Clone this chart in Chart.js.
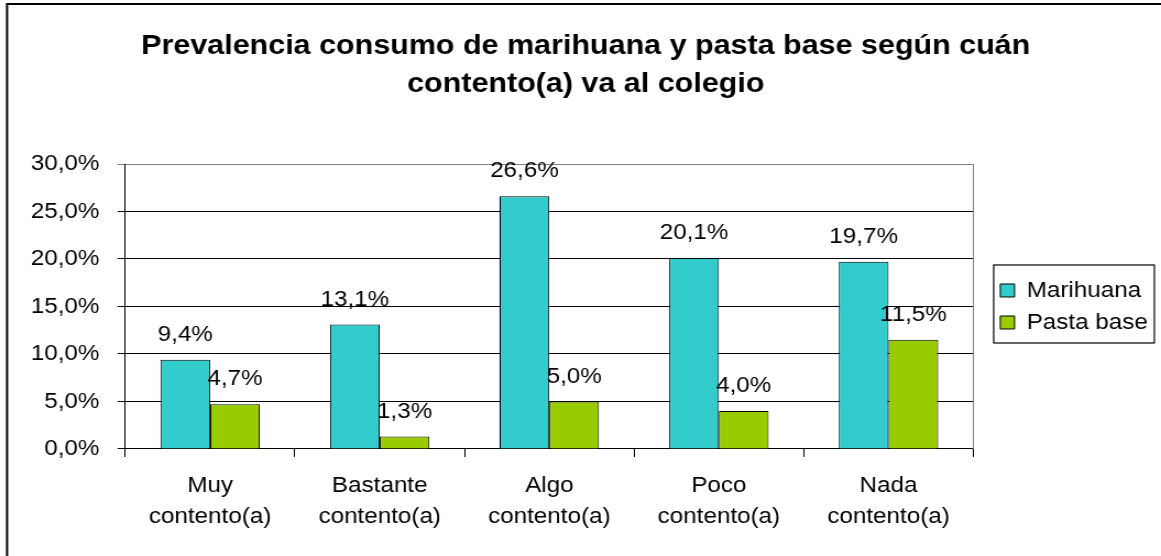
<!DOCTYPE html>
<html>
<head>
<meta charset="utf-8">
<script src="https://cdn.jsdelivr.net/npm/chart.js@4/dist/chart.umd.min.js"></script>
<style>
  html, body { margin: 0; padding: 0; background: #fff; overflow: hidden; }
  #wrap { width: 1055px; height: 556px; transform: scaleX(1.1005); transform-origin: 0 0; }
</style>
</head>
<body>
<div id="wrap"><canvas id="chart" width="1055" height="556"></canvas></div>
<script>
const categories = [
    ['Muy', 'contento(a)'],
    ['Bastante', 'contento(a)'],
    ['Algo', 'contento(a)'],
    ['Poco', 'contento(a)'],
    ['Nada', 'contento(a)']
];
const marihuana = [9.4, 13.1, 26.6, 20.1, 19.7];
const pastaBase = [4.7, 1.3, 5.0, 4.0, 11.5];
const yMax = 30;
const yStep = 5;

const FONT = "'Liberation Sans', Arial, sans-serif";
const pct = v => v.toFixed(1).replace('.', ',') + '%';

// value labels above each bar
const barLabels = {
    id: 'barLabels',
    afterDatasetsDraw(chart) {
        const ctx = chart.ctx;
        ctx.save();
        ctx.font = '22px ' + FONT;
        ctx.fillStyle = '#000';
        ctx.textAlign = 'center';
        ctx.textBaseline = 'middle';
        chart.data.datasets.forEach((ds, i) => {
            chart.getDatasetMeta(i).data.forEach((bar, j) => {
                ctx.fillText(pct(ds.data[j]), bar.x, bar.y - 25);
            });
        });
        ctx.restore();
    }
};

// outer frame, plot right edge, legend frame
const frames = {
    id: 'frames',
    afterDraw(chart) {
        const ctx = chart.ctx;
        const a = chart.chartArea;
        ctx.save();
        ctx.strokeStyle = '#808080';
        ctx.lineWidth = 1;
        ctx.beginPath();
        ctx.moveTo(Math.round(a.right) + 0.5, a.top);
        ctx.lineTo(Math.round(a.right) + 0.5, a.bottom);
        ctx.stroke();

        ctx.strokeStyle = '#000';
        ctx.lineWidth = 2;
        ctx.beginPath();
        ctx.moveTo(6.4, 556);
        ctx.lineTo(6.4, 4);
        ctx.lineTo(chart.width, 4);
        ctx.stroke();

        const lg = chart.legend;
        const hb = lg.legendHitBoxes;
        if (hb && hb.length) {
            ctx.lineWidth = 1.2;
            const top = hb[0].top - 14.5;
            const bottom = hb[hb.length - 1].top + hb[hb.length - 1].height + 9.5;
            ctx.strokeRect(lg.left + 4, top, 146, bottom - top);
        }
        ctx.restore();
    }
};

new Chart(document.getElementById('chart'), {
    type: 'bar',
    data: {
        labels: categories,
        datasets: [
            {
                label: 'Marihuana',
                data: marihuana,
                backgroundColor: '#33CCCC',
                borderColor: '#000',
                borderWidth: 1,
                categoryPercentage: 0.586,
                barPercentage: 1
            },
            {
                label: 'Pasta base',
                data: pastaBase,
                backgroundColor: '#99CC00',
                borderColor: '#000',
                borderWidth: 1,
                categoryPercentage: 0.586,
                barPercentage: 1
            }
        ]
    },
    options: {
        responsive: false,
        animation: false,
        layout: { padding: { left: 11.5, right: 2, top: 0, bottom: 11 } },
        plugins: {
            title: {
                display: true,
                text: ['Prevalencia consumo de marihuana y pasta base según cuán', 'contento(a) va al colegio'],
                color: '#000',
                font: { family: FONT, size: 27.7, weight: 'bold', lineHeight: 1.372 },
                padding: { top: 27, bottom: 61 }
            },
            legend: {
                position: 'right',
                fullSize: false,
                labels: {
                    color: '#000',
                    font: { family: FONT, size: 22 },
                    boxWidth: 13,
                    boxHeight: 13,
                    padding: 10
                }
            },
            tooltip: { enabled: false }
        },
        scales: {
            x: {
                grid: {
                    offset: true,
                    drawOnChartArea: false,
                    tickLength: 8,
                    color: '#000'
                },
                border: { color: '#000', width: 1 },
                ticks: {
                    color: '#000',
                    padding: 13,
                    maxRotation: 0,
                    font: { family: FONT, size: 22, lineHeight: 1.41 }
                }
            },
            y: {
                min: 0,
                max: yMax,
                grid: {
                    color: c => (c.tick && c.tick.value === yMax ? '#808080' : '#000'),
                    tickLength: 7
                },
                border: { color: '#000', width: 1 },
                ticks: {
                    stepSize: yStep,
                    color: '#000',
                    padding: 16.5,
                    font: { family: FONT, size: 22 },
                    callback: v => pct(v)
                }
            },
            gap: {
                position: 'right',
                display: true,
                grid: { display: false },
                border: { display: false },
                ticks: { display: false },
                afterFit(s) { s.width = 14.5; }
            }
        }
    },
    plugins: [barLabels, frames]
});
</script>
</body>
</html>
